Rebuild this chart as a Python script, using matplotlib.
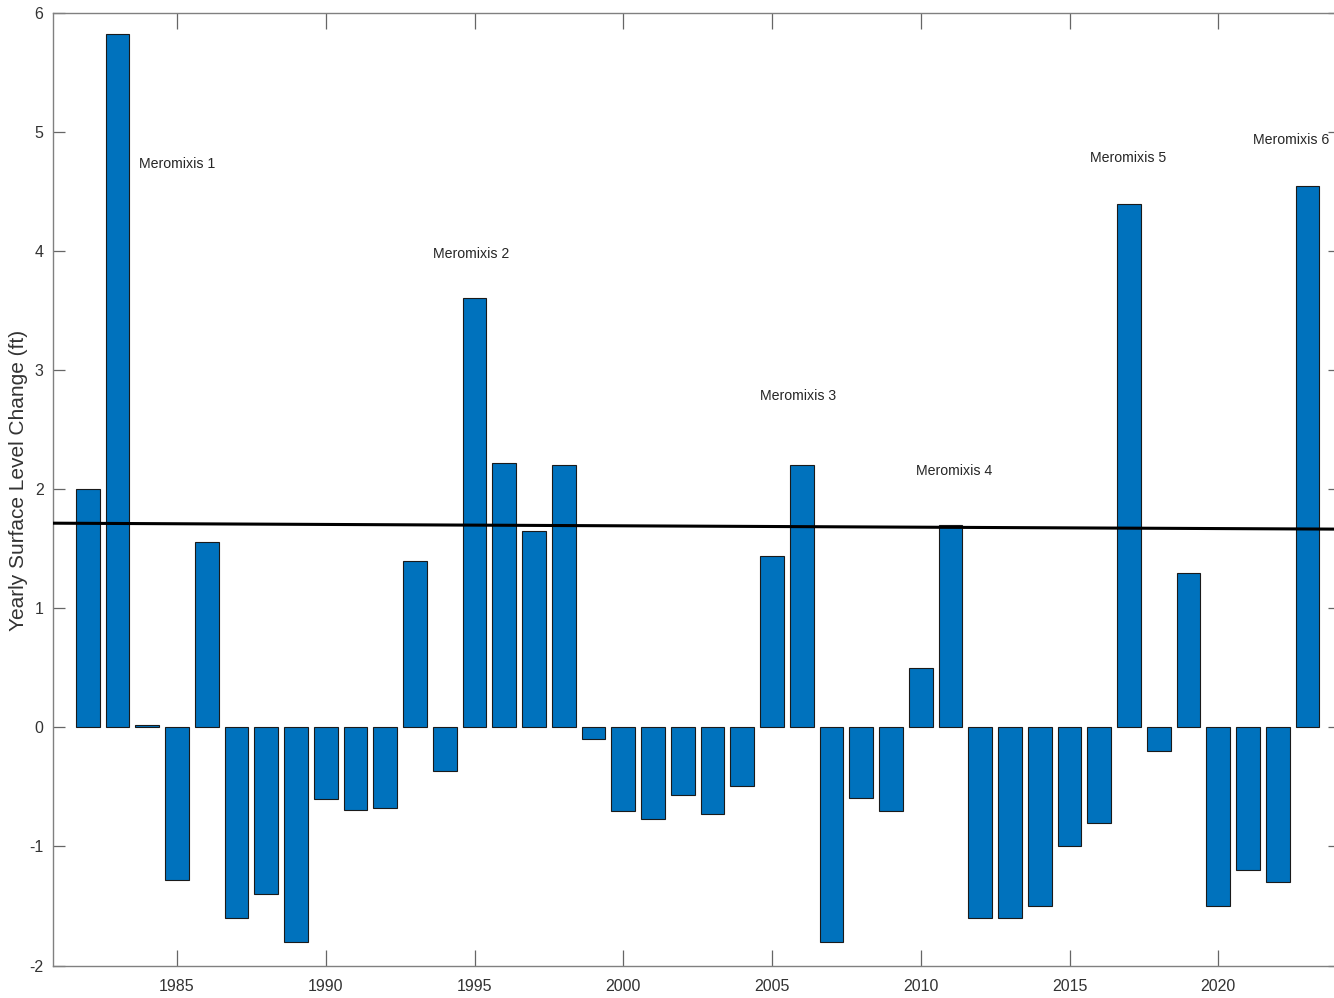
import matplotlib
matplotlib.use("Agg")
import matplotlib.pyplot as plt

years = list(range(1982, 2024))
change = [2.0, 5.82, 0.02, -1.28, 1.56, -1.6, -1.4, -1.8, -0.6, -0.69, -0.68,
          1.40, -0.37, 3.61, 2.22, 1.65, 2.20, -0.1, -0.7, -0.77, -0.57, -0.73,
          -0.49, 1.44, 2.20, -1.8, -0.59, -0.7, 0.5, 1.70, -1.6, -1.6, -1.5,
          -1.0, -0.8, 4.40, -0.2, 1.30, -1.5, -1.2, -1.3, 4.55]

trend_x = [1980.84, 2024.1]
trend_y = [1.715, 1.665]

labels = ["Meromixis 1", "Meromixis 2", "Meromixis 3", "Meromixis 4",
          "Meromixis 5", "Meromixis 6"]
label_x = [1983.71, 1993.6, 2004.59, 2009.84, 2015.69, 2021.15]
label_y = [4.73, 3.98, 2.78, 2.15, 4.78, 4.93]

xticks = [1985, 1990, 1995, 2000, 2005, 2010, 2015, 2020]
yticks = [-2, -1, 0, 1, 2, 3, 4, 5, 6]

plt.rcParams['font.family'] = ['Liberation Sans', 'DejaVu Sans']
plt.rcParams['axes.unicode_minus'] = False

W, H = 1334, 998
fig = plt.figure(figsize=(W / 100, H / 100), dpi=100)
left_px, right_px, top_px, bot_px = 53.3, 1340.3, 13, 965.5
ax = fig.add_axes([left_px / W, 1 - bot_px / H, (right_px - left_px) / W, (bot_px - top_px) / H])

ax.bar(years, change, width=0.8, color='#0072BD', edgecolor='#1a1a1a', linewidth=0.8, zorder=2)
ax.plot(trend_x, trend_y, color='black', linewidth=2.2, zorder=3)

for t, x, y in zip(labels, label_x, label_y):
    ax.text(x, y, t, fontsize=10.2, color='#262626', ha='left', va='center', zorder=4)

ax.set_xlim(trend_x[0], trend_x[1])
ax.set_ylim(-2, 6)
ax.set_xticks(xticks)
ax.set_yticks(yticks)
ax.tick_params(axis='x', direction='in', length=11.5, width=0.9, top=True,
               labelsize=11.5, labelcolor='#333333', color='#666666', pad=10)
ax.tick_params(axis='y', direction='in', length=8.5, width=0.9, right=True,
               labelsize=11.5, labelcolor='#333333', color='#666666', pad=7)
for s in ax.spines.values():
    s.set_color('#808080')
    s.set_linewidth(1.0)

ax.set_ylabel('Yearly Surface Level Change (ft)', fontsize=15, color='#333333')
ax.yaxis.set_label_coords((28 - left_px) / (right_px - left_px), (bot_px - 480) / (bot_px - top_px))

fig.savefig('out.png', dpi=100)
